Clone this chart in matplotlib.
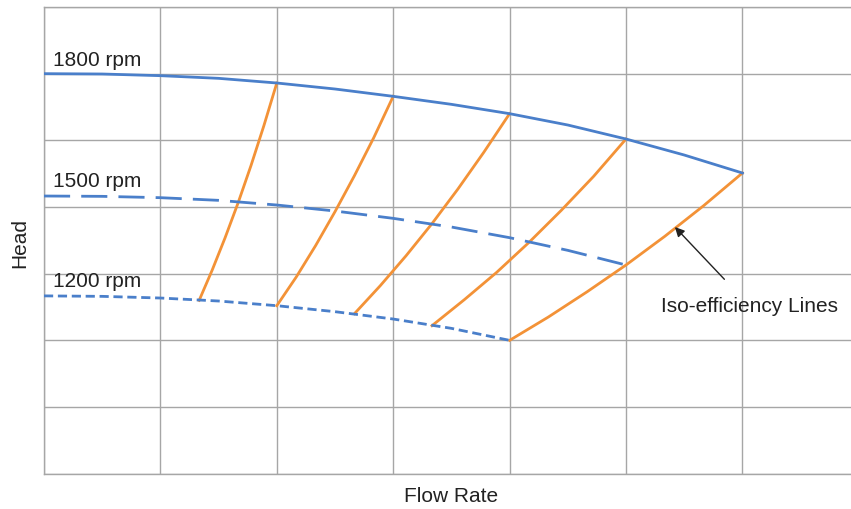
import numpy as np
import matplotlib.pyplot as plt

plt.rcParams['font.family'] = ['Liberation Sans', 'DejaVu Sans']

# Pump curves (flow in grid units, head in grid units)
q_1800 = [0, 0.5, 1, 1.5, 2, 2.5, 3, 3.5, 4, 4.5, 5, 5.5, 6]
h_1800 = [6.00, 5.995, 5.97, 5.93, 5.86, 5.77, 5.66, 5.54, 5.40, 5.23, 5.02, 4.78, 4.51]

q_1500 = [0, 0.5, 1, 1.5, 2, 2.5, 3, 3.5, 4, 4.5, 5]
h_1500 = [4.165, 4.16, 4.14, 4.10, 4.03, 3.94, 3.83, 3.70, 3.54, 3.35, 3.13]

q_1200 = [0, 0.5, 1, 1.5, 2, 2.5, 3, 3.5, 4]
h_1200 = [2.667, 2.66, 2.635, 2.59, 2.52, 2.43, 2.32, 2.18, 2.00]

# Iso-efficiency lines (bottom to top)
iso_q = [
    [1.333, 1.444, 1.556, 1.667, 1.778, 1.889, 2.0],
    [2.0, 2.167, 2.333, 2.5, 2.667, 2.833, 3.0],
    [2.667, 2.889, 3.111, 3.333, 3.556, 3.778, 4.0],
    [3.333, 3.611, 3.889, 4.167, 4.444, 4.722, 5.0],
    [4.0, 4.333, 4.667, 5.0, 5.333, 5.667, 6.0],
]
iso_h = [
    [2.60, 3.05, 3.54, 4.06, 4.62, 5.22, 5.86],
    [2.52, 2.95, 3.42, 3.93, 4.47, 5.04, 5.66],
    [2.40, 2.82, 3.27, 3.75, 4.27, 4.82, 5.40],
    [2.22, 2.61, 3.02, 3.47, 3.95, 4.46, 5.02],
    [2.00, 2.35, 2.73, 3.13, 3.56, 4.02, 4.51],
]

speed_labels = ['1800 rpm', '1500 rpm', '1200 rpm']
label_h = [6.22, 4.40, 2.90]

blue = '#4a7fca'
orange = '#f39237'
grid_col = '#a6a6a6'
text_col = '#222222'

fig = plt.figure(figsize=(8.51, 5.10), dpi=100)
ax = fig.add_axes([44 / 851, 35.3 / 510, 807 / 851, 466.7 / 510])

ax.set_xlim(0, 807 / 116.4)
ax.set_ylim(0, 7)
ax.set_xticks(np.arange(0, 7))
ax.set_yticks(np.arange(0, 8))
ax.tick_params(length=0, labelbottom=False, labelleft=False)
ax.grid(True, color=grid_col, linewidth=1.0)
for side in ['left', 'bottom', 'top']:
    ax.spines[side].set_color(grid_col)
    ax.spines[side].set_linewidth(1.0)
ax.spines['right'].set_visible(False)

for qs, hs in zip(iso_q, iso_h):
    ax.plot(qs, hs, color=orange, lw=2, zorder=3)

ax.plot(q_1800, h_1800, color=blue, lw=2, zorder=4)
ax.plot(q_1500, h_1500, color=blue, lw=2, dashes=(9.4, 4), zorder=4)
ax.plot(q_1200, h_1200, color=blue, lw=2, dashes=(3.3, 1.7), zorder=4)

for txt, h in zip(speed_labels, label_h):
    ax.text(0.08, h, txt, fontsize=15, color=text_col, va='center', ha='left')

ax.annotate('Iso-efficiency Lines', xy=(5.42, 3.70), xytext=(6.06, 2.52),
            fontsize=15, color=text_col, ha='center', va='center',
            arrowprops=dict(arrowstyle='-|>', color=text_col, lw=1,
                            shrinkA=14, shrinkB=0, mutation_scale=14))

fig.text(451 / 851, 1 - 497 / 510, 'Flow Rate', fontsize=15, color=text_col,
         ha='center', va='center')
fig.text(20 / 851, 1 - 243 / 510, 'Head', fontsize=15, color=text_col,
         ha='center', va='center', rotation=90)

fig.savefig('out.png', dpi=100)
